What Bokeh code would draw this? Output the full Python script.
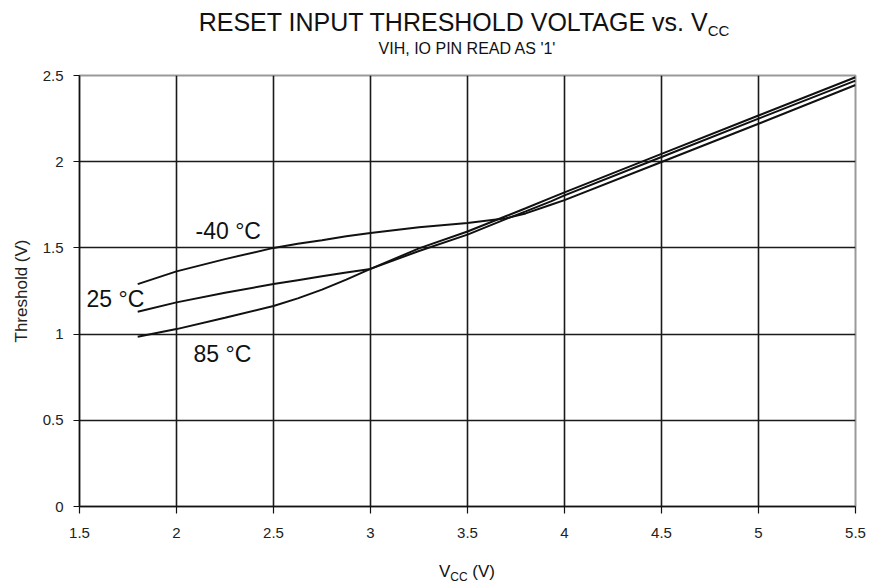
from bokeh.plotting import figure
from bokeh.models import FixedTicker, Label, Div
from bokeh.layouts import column
from bokeh.embed import file_html
from bokeh.resources import INLINE

# ---- data ----
vcc = [1.8, 2.0, 2.25, 2.5, 2.625, 2.75, 2.875, 3.0, 3.25, 3.5, 3.7, 3.8, 3.93, 4.0, 4.5, 5.0, 5.5]
th_m40 = [1.29, 1.364, 1.435, 1.50, 1.524, 1.545, 1.567, 1.587, 1.62, 1.645, 1.672, 1.70, 1.75, 1.777, 1.998, 2.22, 2.445]
th_25 = [1.13, 1.184, 1.24, 1.29, 1.313, 1.335, 1.357, 1.378, 1.482, 1.577, 1.668, 1.712, 1.77, 1.805, 2.027, 2.25, 2.47]
th_85 = [0.985, 1.029, 1.095, 1.163, 1.207, 1.258, 1.316, 1.378, 1.497, 1.595, 1.685, 1.73, 1.79, 1.822, 2.045, 2.268, 2.49]

series_names = ["-40 °C", "25 °C", "85 °C"]

x_ticks = [1.5, 2, 2.5, 3, 3.5, 4, 4.5, 5, 5.5]
x_tick_labels = ["1.5", "2", "2.5", "3", "3.5", "4", "4.5", "5", "5.5"]
y_ticks = [0, 0.5, 1, 1.5, 2, 2.5]
y_tick_labels = ["0", "0.5", "1", "1.5", "2", "2.5"]
x_grid = [2, 2.5, 3, 3.5, 4, 4.5, 5]
y_grid = [0.5, 1, 1.5, 2]

title_main = "RESET INPUT THRESHOLD VOLTAGE vs. V"
title_sub = "CC"
subtitle = "VIH, IO PIN READ AS '1'"
y_label = "Threshold (V)"
x_label_main = "V"
x_label_sub = "CC"
x_label_unit = "(V)"

FONT = "Liberation Sans"

W = 870
TOP_H = 60          # title block height
BOT_H = 30          # x-label block height
FL, FR, FT, FB = 79, 855, 75, 506   # frame edges on the page
FIG_H = 556 - TOP_H
X0, X1, Y0, Y1 = 1.5, 5.5, 0.0, 2.5


def dx(px):
    return X0 + (px - FL) * (X1 - X0) / (FR - FL)


def dy(py):
    return Y0 + (FB - py) * (Y1 - Y0) / (FB - FT)


p = figure(width=W, height=FIG_H, x_range=(X0, X1), y_range=(Y0, Y1),
           output_backend="svg", toolbar_location=None,
           min_border_left=FL, min_border_right=W - FR,
           min_border_top=FT - TOP_H, min_border_bottom=TOP_H + FIG_H - FB)
p.background_fill_color = "white"
p.border_fill_color = "white"
p.outline_line_color = "#9a9a9a"
p.outline_line_width = 2

for ax in (p.xaxis[0], p.yaxis[0]):
    ax.axis_line_color = "#111111"
    ax.axis_line_width = 1.5
    ax.major_tick_line_color = "#111111"
    ax.major_tick_line_width = 1.2
    ax.major_tick_in = 0
    ax.minor_tick_line_color = None
    ax.major_label_text_font = FONT
    ax.major_label_text_font_size = "15px"
    ax.major_label_text_color = "#222222"

p.xaxis.ticker = FixedTicker(ticks=x_ticks)
p.yaxis.ticker = FixedTicker(ticks=y_ticks)
p.xaxis.major_label_overrides = dict(zip(x_ticks, x_tick_labels))
p.yaxis.major_label_overrides = dict(zip(y_ticks, y_tick_labels))
p.xaxis.major_tick_out = 7
p.yaxis.major_tick_out = 6
p.xaxis.major_label_standoff = 14
p.yaxis.major_label_standoff = 10

p.yaxis.axis_label = y_label
p.yaxis.axis_label_text_font = FONT
p.yaxis.axis_label_text_font_size = "17px"
p.yaxis.axis_label_text_font_style = "normal"
p.yaxis.axis_label_text_color = "#222222"
p.yaxis.axis_label_standoff = 9

p.xgrid.ticker = FixedTicker(ticks=x_grid)
p.ygrid.ticker = FixedTicker(ticks=y_grid)
for g in (p.xgrid[0], p.ygrid[0]):
    g.grid_line_color = "#1a1a1a"
    g.grid_line_width = 1.6

for ys in (th_m40, th_25, th_85):
    p.line(vcc, ys, line_color="#111111", line_width=2)

lab_pos = [(195, 230), (86, 298), (193, 353)]
for name, (px, py) in zip(series_names, lab_pos):
    p.add_layout(Label(x=dx(px), y=dy(py), text=name, text_font=FONT,
                       text_font_size="23px", text_color="#111111",
                       text_align="left", text_baseline="alphabetic"))

base = "font-family:'Liberation Sans',Arial,sans-serif;color:#111;white-space:nowrap;position:absolute;text-align:center;"
title_html = (
    f'<div style="{base}left:0;top:10px;width:928px;font-size:25px;line-height:25px;">'
    f'{title_main}<span style="font-size:15px;position:relative;top:5px;">{title_sub}</span></div>'
    f'<div style="{base}left:0;top:41px;width:934px;font-size:16px;line-height:16px;">{subtitle}</div>'
)
title_div = Div(text=title_html, width=W, height=TOP_H, margin=(0, 0, 0, 0),
                styles={"position": "relative", "overflow": "visible"})

xl_html = (
    f'<div style="{base}left:0;top:7px;width:934px;font-size:17px;line-height:17px;">'
    f'{x_label_main}<span style="font-size:12px;position:relative;top:4px;">{x_label_sub}</span> {x_label_unit}</div>'
)
xl_div = Div(text=xl_html, width=W, height=BOT_H, margin=(0, 0, 0, 0),
             styles={"position": "relative", "overflow": "visible"})

layout = column(title_div, p, xl_div, spacing=0, margin=(0, 0, 0, 0))

open("out.html", "w").write(file_html(layout, INLINE))
